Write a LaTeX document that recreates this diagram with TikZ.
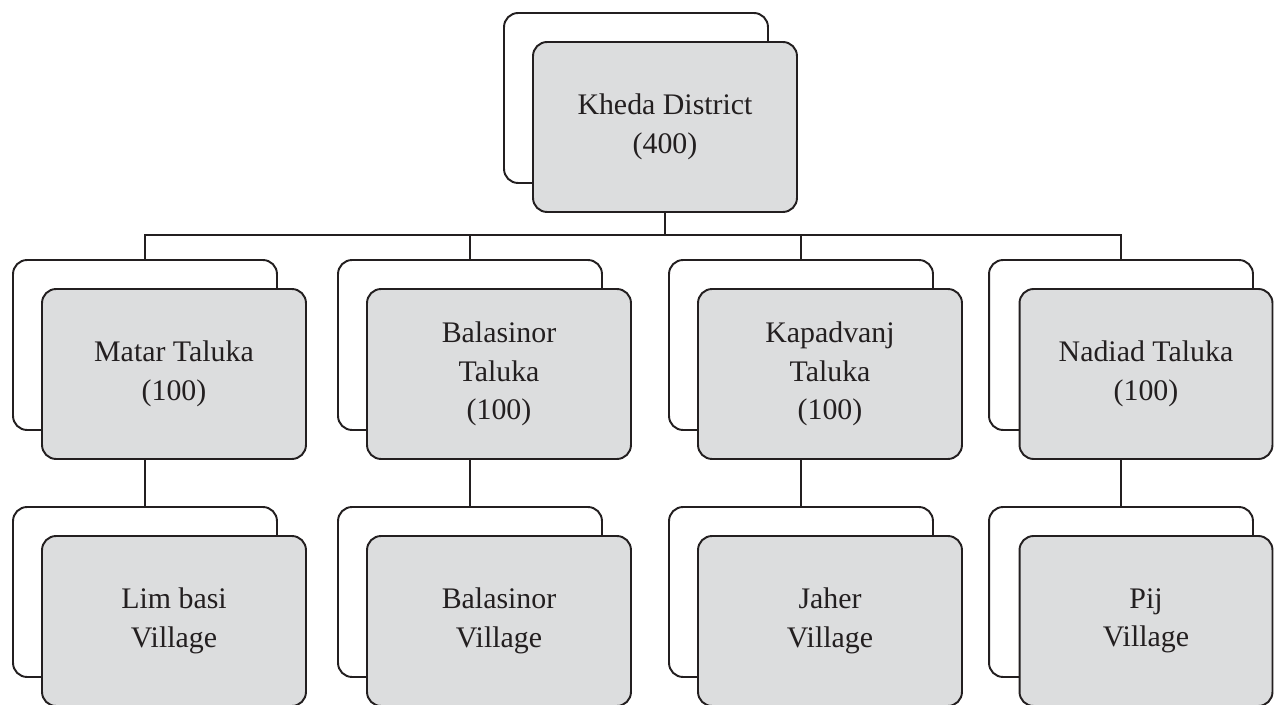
\documentclass[tikz,border=0pt]{standalone}
\usepackage{fontspec}
\setmainfont{Liberation Serif}
\usetikzlibrary{positioning, calc}
\definecolor{boxgray}{HTML}{DCDDDE}
\definecolor{inkline}{HTML}{231F20}

\begin{document}
\begin{tikzpicture}[
    x=0.02cm, y=-0.02cm,
    % Styles
    backbox/.style={rounded corners=8pt, draw=inkline, line width=1.1pt, fill=white, minimum width=5.28cm, minimum height=3.4cm},
    frontbox/.style={backbox, fill=boxgray, text=inkline, align=center, font=\fontsize{17}{22}\selectfont},
    link/.style={draw=inkline, line width=1.1pt},
]
\useasboundingbox (0,0) rectangle (1275,705);

% ── Top: district ──
\node[backbox] (distbk) at (636,98) {};
\node[frontbox] (dist) at ($(distbk)+(29,29)$) {Kheda District\\(400)};

% ── Level 2: talukas ──
\node[backbox] (matbk) at (145,345) {};
\node[frontbox] (matar) at ($(matbk)+(29,29)$) {Matar Taluka\\(100)};
\node[backbox] (balbk) at (470,345) {};
\node[frontbox] (balas) at ($(balbk)+(29,29)$) {Balasinor\\Taluka\\(100)};
\node[backbox] (kapbk) at (801,345) {};
\node[frontbox] (kapad) at ($(kapbk)+(29,29)$) {Kapadvanj\\Taluka\\(100)};
\node[backbox] (nadbk) at (1121,345) {};
\node[frontbox, minimum width=5.06cm] (nadiad) at ($(nadbk)+(25,29)$) {Nadiad Taluka\\(100)};

% ── Level 3: villages ──
\node[backbox] (limbk) at (145,592) {};
\node[frontbox] (limbasi) at ($(limbk)+(29,29)$) {Lim basi\\Village};
\node[backbox] (bvbk) at (470,592) {};
\node[frontbox] (balvil) at ($(bvbk)+(29,29)$) {Balasinor\\Village};
\node[backbox] (jahbk) at (801,592) {};
\node[frontbox] (jaher) at ($(jahbk)+(29,29)$) {Jaher\\Village};
\node[backbox] (pijbk) at (1121,592) {};
\node[frontbox, minimum width=5.06cm] (pij) at ($(pijbk)+(25,29)$) {Pij\\Village};

% ── Connectors ──
\coordinate (bus) at ($(dist.south)+(0,22)$);
\draw[link] (dist.south) -- (bus);
\foreach \b in {matbk,balbk,kapbk,nadbk}
    \draw[link] (bus) -| (\b.north);

\draw[link] (matar.south -| limbk.north) -- (limbk.north);
\draw[link] (balas.south -| bvbk.north) -- (bvbk.north);
\draw[link] (kapad.south -| jahbk.north) -- (jahbk.north);
\draw[link] (nadiad.south -| pijbk.north) -- (pijbk.north);

\end{tikzpicture}
\end{document}
